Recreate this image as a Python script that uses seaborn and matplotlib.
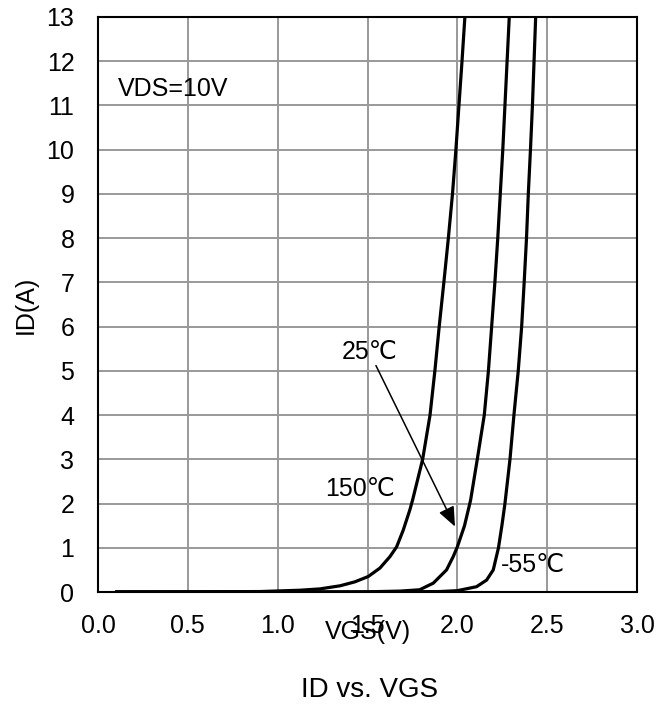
import numpy as np
import pandas as pd
import matplotlib
matplotlib.use("Agg")
import matplotlib.pyplot as plt
import seaborn as sns

# ---- data ----
vgs_150 = [0.1, 0.9, 1.124, 1.235, 1.347, 1.43, 1.504, 1.569, 1.625, 1.662, 1.699, 1.736, 1.751,
           1.807, 1.848, 1.875, 1.899, 1.925, 1.950, 1.973, 1.992, 2.009, 2.026, 2.042]
id_150 = [0.0, 0.01, 0.04, 0.07, 0.14, 0.23, 0.35, 0.54, 0.80, 1.02, 1.40, 1.86, 2.08,
          3.0, 4.0, 5.0, 6.0, 7.0, 8.0, 9.0, 10.0, 11.0, 12.0, 13.0]

vgs_25 = [0.1, 1.0, 1.5, 1.68, 1.79, 1.866, 1.94, 1.977, 2.0, 2.04, 2.074,
          2.111, 2.150, 2.173, 2.191, 2.209, 2.225, 2.239, 2.253, 2.265, 2.277, 2.289]
id_25 = [0.0, 0.0, 0.005, 0.02, 0.05, 0.2, 0.5, 0.8, 1.02, 1.5, 2.08,
         3.0, 4.0, 5.0, 6.0, 7.0, 8.0, 9.0, 10.0, 11.0, 12.0, 13.0]

vgs_m55 = [0.1, 1.5, 1.9, 2.0, 2.107, 2.163, 2.2, 2.229, 2.248, 2.265,
           2.293, 2.315, 2.339, 2.358, 2.372, 2.385, 2.395, 2.407, 2.418, 2.427, 2.436]
id_m55 = [0.0, 0.0, 0.01, 0.03, 0.12, 0.27, 0.5, 1.0, 1.5, 2.0,
          3.0, 4.0, 5.0, 6.0, 7.0, 8.0, 9.0, 10.0, 11.0, 12.0, 13.0]

x_ticks = [0.0, 0.5, 1.0, 1.5, 2.0, 2.5, 3.0]
x_tick_labels = ["0.0", "0.5", "1.0", "1.5", "2.0", "2.5", "3.0"]
y_ticks = list(range(0, 14))

sns.set_theme(style="white")
plt.rcParams['font.family'] = ['Liberation Sans', 'DejaVu Sans']

fig = plt.figure(figsize=(6.65, 7.11), dpi=100)
ax = fig.add_axes([98/665, 1-592/711, (637-98)/665, (592-17)/711])

frames = []
for name, v, i in [("150", vgs_150, id_150), ("25", vgs_25, id_25), ("-55", vgs_m55, id_m55)]:
    frames.append(pd.DataFrame({"VGS": v, "ID": i, "T": name}))
df = pd.concat(frames, ignore_index=True)

for name in ["150", "25", "-55"]:
    sub = df[df["T"] == name]
    sns.lineplot(data=sub, x="VGS", y="ID", sort=False, estimator=None,
                 color="black", lw=2.3, ax=ax, legend=False,
                 solid_joinstyle="round", solid_capstyle="round")

ax.set_xlim(0, 3.0)
ax.set_ylim(0, 13)
ax.set_xticks(x_ticks)
ax.set_xticklabels(x_tick_labels)
ax.set_yticks(y_ticks)
ax.grid(True, color="#999999", lw=1.4)
ax.set_axisbelow(True)
for s in ax.spines.values():
    s.set_color("black")
    s.set_linewidth(1.5)
ax.tick_params(axis="both", length=0, labelsize=18, colors="black")
ax.tick_params(axis="x", pad=16)
ax.tick_params(axis="y", pad=17)

ax.set_ylabel("ID(A)", fontsize=18, color="black")
ax.yaxis.set_label_coords(-0.112, 0.5)
ax.set_xlabel("VGS(V)", fontsize=18, color="black", va="center")
ax.xaxis.set_label_coords(0.5, (592-632)/575)

fig.text(370/665, 1-690/711, "ID vs. VGS", fontsize=20, ha="center", va="center", color="black")

ax.text(0.111, 11.38, "VDS=10V", fontsize=18, ha="left", va="center", color="black")
ax.text(1.514, 5.43, "25℃", fontsize=18, ha="center", va="center", color="black")
ax.text(1.458, 2.33, "150℃", fontsize=18, ha="center", va="center", color="black")
ax.text(2.42, 0.61, "-55℃", fontsize=18, ha="center", va="center", color="black")
ax.annotate("", xy=(1.987, 1.48), xytext=(1.547, 5.12),
            arrowprops=dict(arrowstyle="-|>,head_length=0.6,head_width=0.25",
                            mutation_scale=20, color="black", lw=1.1,
                            shrinkA=0, shrinkB=0))

fig.savefig("out.png", dpi=100, facecolor="white")
